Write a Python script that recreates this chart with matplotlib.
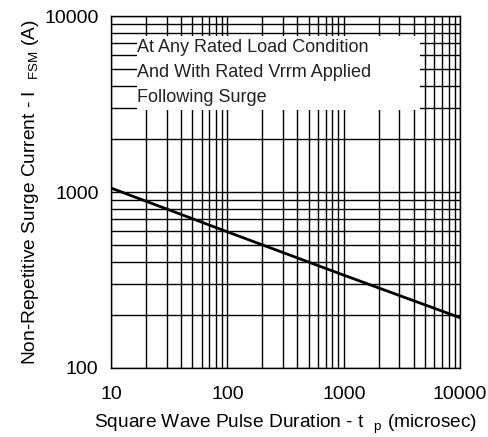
import numpy as np
import matplotlib
matplotlib.use("Agg")
import matplotlib.pyplot as plt
from matplotlib.patches import Rectangle
from matplotlib.ticker import LogLocator, NullFormatter, FixedLocator

plt.rcParams['font.family'] = ['Liberation Sans', 'DejaVu Sans']

# surge curve
pulse_us = [10, 100, 1000, 10000]
surge_a = [1054, 594, 337, 193]

note_lines = ["At Any Rated Load Condition",
              "And With Rated Vrrm Applied",
              "Following Surge"]

fig = plt.figure(figsize=(4.89, 4.37), dpi=100)
ax = fig.add_axes([0.227, 0.158, 0.714, 0.805])
ax.set_xscale("log")
ax.set_yscale("log")
ax.set_xlim(10, 10000)
ax.set_ylim(100, 10000)

ax.xaxis.set_major_locator(FixedLocator([10, 100, 1000, 10000]))
ax.yaxis.set_major_locator(FixedLocator([100, 1000, 10000]))
ax.xaxis.set_minor_locator(LogLocator(base=10, subs=np.arange(2, 10)))
ax.yaxis.set_minor_locator(LogLocator(base=10, subs=np.arange(2, 10)))
ax.xaxis.set_minor_formatter(NullFormatter())
ax.yaxis.set_minor_formatter(NullFormatter())
ax.set_xticklabels(["10", "100", "1000", "10000"])
ax.set_yticklabels(["100", "1000", "10000"])
ax.tick_params(which="both", length=0, labelsize=14)
ax.tick_params(axis="x", pad=13)
ax.tick_params(axis="y", pad=9)

ax.grid(True, which="both", color="black", linewidth=1.0)
ax.set_axisbelow(True)
for s in ax.spines.values():
    s.set_color("black")
    s.set_linewidth(1.0)

ax.plot(pulse_us, surge_a, color="black", linewidth=2.0, zorder=3)

# white note box over the grid
ax.add_patch(Rectangle((0.0745, 0.733), 0.81, 0.21, transform=ax.transAxes,
                       facecolor="white", edgecolor="none", zorder=4))
for i, line in enumerate(note_lines):
    ax.text(0.075, 0.912 - i * 0.072, line, transform=ax.transAxes,
            ha="left", va="center", fontsize=13, color="#222222", zorder=5)

ax.set_xlabel("Square Wave Pulse Duration - t  $_\\mathregular{p}$ (microsec)", fontsize=13.8, labelpad=7)
ax.set_ylabel("Non-Repetitive Surge Current - I  $_\\mathregular{FSM}$ (A)", fontsize=13.8, labelpad=2)

fig.savefig("out.png", dpi=100)
